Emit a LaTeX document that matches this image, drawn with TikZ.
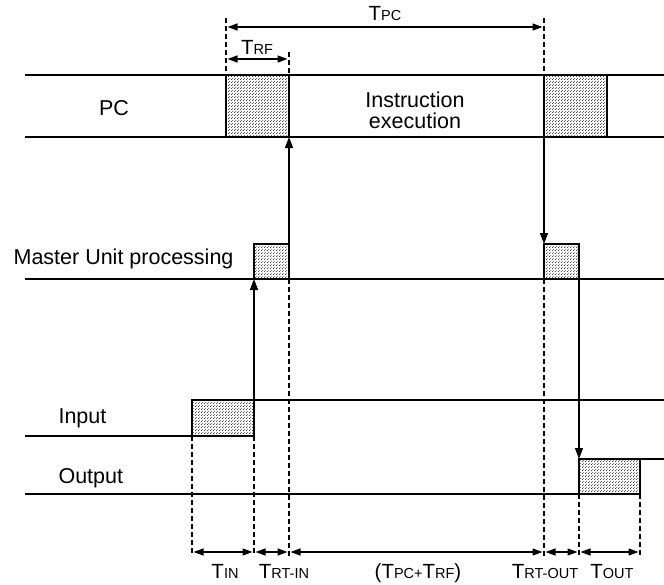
\documentclass[tikz,border=0pt]{standalone}
\usepackage{fontspec}
\setmainfont{Liberation Sans}
\usetikzlibrary{arrows.meta,patterns}

\newcommand{\tlab}[1]{T{\fontsize{14.5}{14.5}\selectfont #1}}

\pgfdeclarepatternformonly{halftone}{\pgfpointorigin}{\pgfpoint{3pt}{3pt}}{\pgfpoint{3pt}{3pt}}{%
  \pgfpathcircle{\pgfpoint{0.75pt}{0.75pt}}{0.62pt}%
  \pgfpathcircle{\pgfpoint{2.25pt}{2.25pt}}{0.62pt}%
  \pgfusepath{fill}}

\begin{document}
\begin{tikzpicture}[x=1pt,y=-1pt,
    font=\fontsize{21.5}{21}\selectfont,
    signal/.style={line width=1.6pt},
    busy/.style={draw, line width=1.6pt, pattern=halftone},
    guide/.style={line width=1.1pt, dash pattern=on 5pt off 3pt},
    flow/.style={line width=1.4pt, -{Triangle[length=11pt,width=8pt]}},
    span/.style={line width=1.4pt, {Triangle[length=10pt,width=7pt]}-{Triangle[length=10pt,width=7pt]},
                 shorten >=1.5pt, shorten <=1.5pt},
    tag/.style={font=\fontsize{20.5}{20.5}\selectfont, anchor=base, inner sep=0pt}
  ]
  \useasboundingbox (0,0) rectangle (664,584);

  % time marks
  \coordinate (inA)  at (192,0);
  \coordinate (inB)  at (254,0);
  \coordinate (rfA)  at (226,0);
  \coordinate (rfB)  at (289,0);
  \coordinate (outA) at (544,0);
  \coordinate (outB) at (579,0);
  \coordinate (pcB)  at (607,0);
  \coordinate (outC) at (640,0);

  % signal lines
  \draw [signal] (25,75)  -- (664,75);
  \draw [signal] (25,137) -- (664,137);
  \draw [signal] (25,279) -- (664,279);
  \draw [signal] (25,436) -- (inA |- 0,436);
  \draw [signal] (inB |- 0,400) -- (664,400);
  \draw [signal] (25,494) -- (outB |- 0,494);
  \draw [signal] (outC |- 0,459) -- (664,459);

  % dashed guides
  \draw [guide] (rfA |- 0,18)  -- (rfA |- 0,75);
  \draw [guide] (outA |- 0,18) -- (outA |- 0,75);
  \draw [guide] (rfB |- 0,52)  -- (rfB |- 0,75);
  \draw [guide] (rfB |- 0,279) -- (rfB |- 0,556);
  \draw [guide] (outA |- 0,279) -- (outA |- 0,556);
  \draw [guide] (inA |- 0,436) -- (inA |- 0,556);
  \draw [guide] (inB |- 0,436) -- (inB |- 0,556);
  \draw [guide] (outB |- 0,494) -- (outB |- 0,556);
  \draw [guide] (outC |- 0,494) -- (outC |- 0,556);

  % busy boxes
  \draw [busy] (rfA |- 0,75)  rectangle (rfB |- 0,137);
  \draw [busy] (outA |- 0,75) rectangle (pcB |- 0,137);
  \draw [busy] (inB |- 0,244) rectangle (rfB |- 0,279);
  \draw [busy] (outA |- 0,244) rectangle (outB |- 0,279);
  \draw [busy] (inA |- 0,400) rectangle (inB |- 0,436);
  \draw [busy] (outB |- 0,459) rectangle (outC |- 0,494);

  % hand-over arrows
  \draw [flow] (inB |- 0,400) -- (inB |- 0,279);
  \draw [flow] (rfB |- 0,244) -- (rfB |- 0,137);
  \draw [flow] (outA |- 0,137) -- (outA |- 0,244);
  \draw [flow] (outB |- 0,279) -- (outB |- 0,459);

  % spans
  \draw [span] (rfA |- 0,27) -- (outA |- 0,27);
  \draw [span] (rfA |- 0,59) -- (rfB |- 0,59);
  \draw [span] (inA |- 0,552) -- (inB |- 0,552);
  \draw [span] (inB |- 0,552) -- (rfB |- 0,552);
  \draw [span] (rfB |- 0,552) -- (outA |- 0,552);
  \draw [span] (outA |- 0,552) -- (outB |- 0,552);
  \draw [span] (outB |- 0,552) -- (outC |- 0,552);

  % row labels
  \node (pc)     at (114,108) {PC};
  \node (exec)   [align=center] at (415,110) {Instruction\\execution};
  \node (master) [anchor=east] at (237,259) {Master Unit processing};
  \node (input)  [anchor=west] at (55,418) {Input};
  \node (output) [anchor=west] at (55,478) {Output};

  % time labels
  \node (tpc)   [tag] at (385,20)  {\tlab{PC}};
  \node (trf)   [tag] at (257,54)  {\tlab{RF}};
  \node (tin)   [tag] at (225,578) {\tlab{IN}};
  \node (trtin) [tag] at (284,578) {\tlab{RT-IN}};
  \node (tsum)  [tag] at (418,578) {(\tlab{PC}{\fontsize{14.5}{14.5}\selectfont +}\tlab{RF})};
  \node (trtout)[tag] at (545,578) {\tlab{RT-OUT}};
  \node (tout)  [tag] at (612,578) {\tlab{OUT}};
\end{tikzpicture}
\end{document}
